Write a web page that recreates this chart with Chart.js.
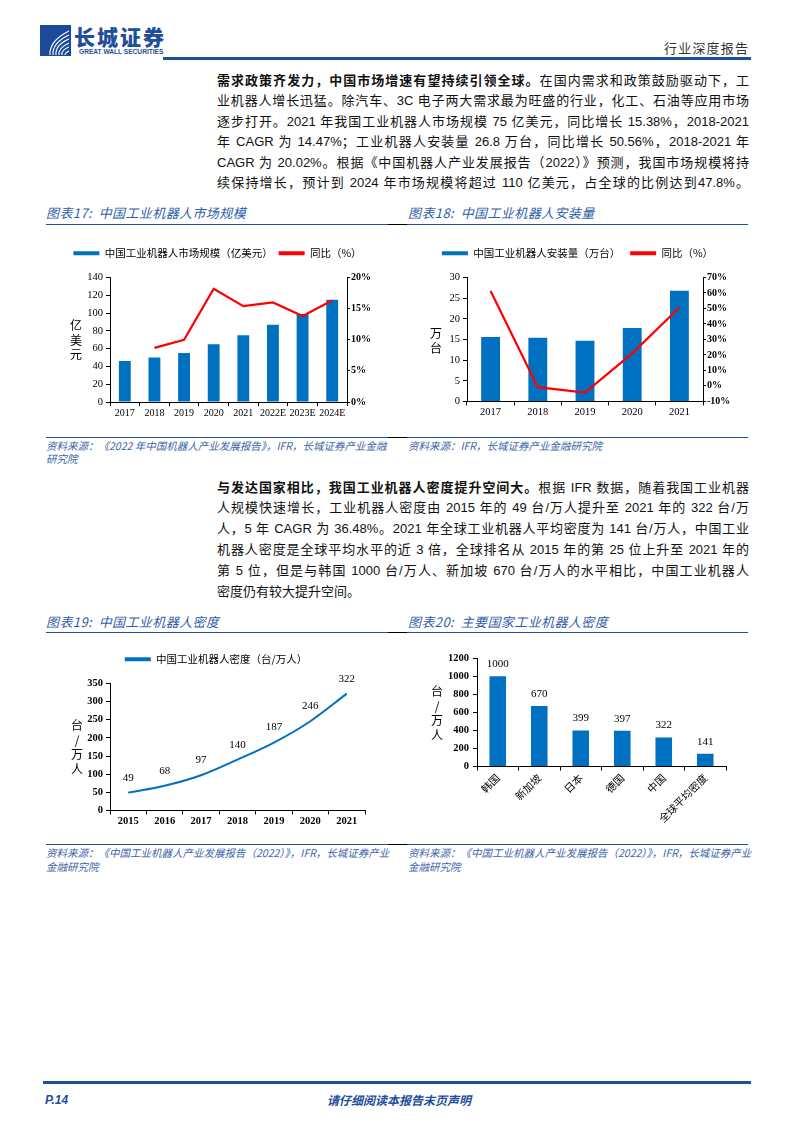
<!DOCTYPE html>
<html>
<head>
<meta charset="utf-8">
<script src="https://cdn.jsdelivr.net/npm/chart.js@4/dist/chart.umd.min.js"></script>
<style>
  html, body { margin:0; padding:0; background:#fff; }
  body { width:794px; height:1123px; position:relative; overflow:hidden;
         font-family:"Liberation Sans","Noto Sans CJK SC",sans-serif; color:#111; }
  .abs { position:absolute; }
  .para { position:absolute; left:217px; width:532px; font-size:13px; }
  .para div { white-space:nowrap; text-align:justify; text-align-last:justify; }
  .para div.last { text-align-last:left; }
  .para b { font-family:"Noto Sans CJK SC",sans-serif; font-weight:700; }
  .ttl { position:absolute; font-size:13px; font-style:italic; color:#2f5da8; line-height:16px; letter-spacing:0.4px;
         font-family:"Noto Sans CJK SC",sans-serif; }
  .src { position:absolute; font-size:10.5px; font-style:italic; color:#3d64a8; line-height:13.5px;
         font-family:"Noto Sans CJK SC",sans-serif; }
  .rule { position:absolute; height:1.5px; background:#1f4e9b; }
  .rule.k { height:1px; background:#000; }
  .ylab { position:absolute; font-size:12px; line-height:14.5px; text-align:center; width:14px;
          font-family:"Noto Sans CJK SC",sans-serif; color:#000; }
  .box { position:absolute; }
</style>
</head>
<body>

<!-- header -->
<svg class="abs" style="left:40px;top:25px" width="31" height="31" viewBox="0 0 31 31">
  <rect width="31" height="31" fill="#1b4a9a"/>
  <path d="M10 30 Q9 16 29 6" stroke="#fff" stroke-width="1.1" fill="none"/>
  <path d="M13 30 Q12 18 29 10" stroke="#fff" stroke-width="1.1" fill="none"/>
  <path d="M16 30 Q15 20 29 14" stroke="#fff" stroke-width="1.1" fill="none"/>
  <path d="M19 30 Q18 23 29 18" stroke="#fff" stroke-width="1.1" fill="none"/>
  <path d="M22 30 Q21 25 29 22" stroke="#fff" stroke-width="1.1" fill="none"/>
  <path d="M25 30 Q25 28 29 26" stroke="#fff" stroke-width="1.1" fill="none"/>
</svg>
<div class="abs" style="left:74px;top:23px;font-size:21px;font-weight:900;color:#1f4e9b;letter-spacing:2px;font-family:'Noto Sans CJK SC';line-height:26px">长城证券</div>
<div class="abs" style="left:79px;top:48px;font-size:6.6px;font-weight:700;color:#1f4e9b;line-height:8px;font-family:'Liberation Sans'">GREAT WALL SECURITIES</div>
<div class="abs" style="left:664px;top:39px;font-size:13px;letter-spacing:1.2px;color:#333;font-family:'Noto Sans CJK SC';line-height:18px">行业深度报告</div>
<div class="abs" style="left:163px;top:57px;width:588px;height:2.5px;background:#1f4e9b"></div>

<!-- paragraph 1 -->
<div class="para" style="top:69.8px;line-height:20.5px">
  <div><b>需求政策齐发力，中国市场增速有望持续引领全球。</b>在国内需求和政策鼓励驱动下，工</div>
  <div>业机器人增长迅猛。除汽车、3C 电子两大需求最为旺盛的行业，化工、石油等应用市场</div>
  <div>逐步打开。2021 年我国工业机器人市场规模 75 亿美元，同比增长 15.38%，2018-2021</div>
  <div>年 CAGR 为 14.47%；工业机器人安装量 26.8 万台，同比增长 50.56%，2018-2021 年</div>
  <div>CAGR 为 20.02%。根据《中国机器人产业发展报告（2022）》预测，我国市场规模将持</div>
  <div>续保持增长，预计到 2024 年市场规模将超过 110 亿美元，占全球的比例达到47.8%。</div>
</div>

<!-- titles row 1 -->
<div class="ttl" style="left:46px;top:205px">图表17:&nbsp; 中国工业机器人市场规模</div>
<div class="ttl" style="left:408px;top:205px">图表18:&nbsp; 中国工业机器人安装量</div>
<div class="rule k" style="left:46px;top:224px;width:702px"></div>
<div class="rule" style="left:46px;top:223.5px;width:342px"></div>
<div class="rule" style="left:407px;top:223.5px;width:341px"></div>

<div class="box" style="left:40px;top:236px;width:355px;height:184px"><canvas id="c17"></canvas></div>
<div class="box" style="left:400px;top:236px;width:350px;height:184px"><canvas id="c18"></canvas></div>
<div class="ylab" style="left:69px;top:318px">亿<br>美<br>元</div>
<div class="ylab" style="left:429px;top:326px">万<br>台</div>

<div class="rule k" style="left:46px;top:437px;width:702px"></div>
<div class="rule" style="left:46px;top:436.5px;width:342px"></div>
<div class="rule" style="left:407px;top:436.5px;width:341px"></div>
<div class="src" style="left:46px;top:438.5px">资料来源：《2022 年中国机器人产业发展报告》，IFR，长城证券产业金融<br>研究院</div>
<div class="src" style="left:408px;top:438.5px">资料来源：IFR，长城证券产业金融研究院</div>

<!-- paragraph 2 -->
<div class="para" style="top:476.6px;line-height:20.8px">
  <div><b>与发达国家相比，我国工业机器人密度提升空间大。</b>根据 IFR 数据，随着我国工业机器</div>
  <div>人规模快速增长，工业机器人密度由 2015 年的 49 台/万人提升至 2021 年的 322 台/万</div>
  <div>人，5 年 CAGR 为 36.48%。2021 年全球工业机器人平均密度为 141 台/万人，中国工业</div>
  <div>机器人密度是全球平均水平的近 3 倍，全球排名从 2015 年的第 25 位上升至 2021 年的</div>
  <div>第 5 位，但是与韩国 1000 台/万人、新加坡 670 台/万人的水平相比，中国工业机器人</div>
  <div class="last">密度仍有较大提升空间。</div>
</div>

<!-- titles row 2 -->
<div class="ttl" style="left:46px;top:614px">图表19:&nbsp; 中国工业机器人密度</div>
<div class="ttl" style="left:408px;top:614px">图表20:&nbsp; 主要国家工业机器人密度</div>
<div class="rule k" style="left:46px;top:632px;width:702px"></div>
<div class="rule" style="left:46px;top:631.5px;width:342px"></div>
<div class="rule" style="left:407px;top:631.5px;width:341px"></div>

<div class="box" style="left:40px;top:643px;width:352px;height:186px"><canvas id="c19"></canvas></div>
<div class="box" style="left:400px;top:648px;width:345px;height:178px"><canvas id="c20"></canvas></div>
<div class="ylab" style="left:70px;top:718px">台<br>/<br>万<br>人</div>
<div class="ylab" style="left:430px;top:684px">台<br>/<br>万<br>人</div>

<div class="rule k" style="left:46px;top:844px;width:702px"></div>
<div class="rule" style="left:46px;top:843.5px;width:342px"></div>
<div class="rule" style="left:407px;top:843.5px;width:341px"></div>
<div class="src" style="left:46px;top:845.5px;line-height:14px">资料来源：《中国工业机器人产业发展报告（2022）》，IFR，长城证券产业<br>金融研究院</div>
<div class="src" style="left:408px;top:845.5px;line-height:14px">资料来源：《中国工业机器人产业发展报告（2022）》，IFR，长城证券产业<br>金融研究院</div>

<!-- footer -->
<div class="abs" style="left:43px;top:1081px;width:708px;height:3px;background:#1f4e9b"></div>
<div class="abs" style="left:45px;top:1092px;font-size:12px;font-weight:700;font-style:italic;color:#1f4e9b;line-height:16px">P.14</div>
<div class="abs" style="left:327px;top:1092px;font-size:12px;font-weight:700;font-style:italic;color:#1f4e9b;line-height:16px;font-family:'Noto Sans CJK SC'">请仔细阅读本报告末页声明</div>

<script>
// ---- data ----
const marketYears = ['2017', '2018', '2019', '2020', '2021', '2022E', '2023E', '2024E'];
const marketSize  = [46, 50, 55, 65, 75, 87, 99, 115];          // 亿美元
const marketYoY   = [null, 8.7, 10.0, 18.2, 15.4, 16.0, 13.8, 16.3]; // %

const installYears = ['2017', '2018', '2019', '2020', '2021'];
const installs     = [15.6, 15.4, 14.7, 17.8, 26.8];            // 万台
const installYoY   = [61.3, -0.8, -4.3, 21.0, 50.6];            // %

const densityYears = ['2015', '2016', '2017', '2018', '2019', '2020', '2021'];
const density      = [49, 68, 97, 140, 187, 246, 322];          // 台/万人

const countries      = ['韩国', '新加坡', '日本', '德国', '中国', '全球平均密度'];
const countryDensity = [1000, 670, 399, 397, 322, 141];

const BLUE = '#0070c0', RED = '#ff0000';
const SERIF = "'Liberation Serif', 'Times New Roman', serif";
const CJK = "'Noto Sans CJK SC', sans-serif";

// numbers above bars / points
const valueLabels = {
  id: 'valueLabels',
  afterDatasetsDraw(chart, args, opts) {
    const { ctx } = chart;
    chart.data.datasets.forEach((ds, i) => {
      chart.getDatasetMeta(i).data.forEach((el, j) => {
        ctx.save();
        ctx.font = `${opts.size}px ${SERIF}`;
        ctx.fillStyle = '#000';
        ctx.textAlign = 'center';
        ctx.textBaseline = 'middle';
        ctx.fillText(String(ds.data[j]), el.x, el.y - opts.offset);
        ctx.restore();
      });
    });
  }
};

// extra empty space under the legend, so the plot starts lower
const legendGap = {
  id: 'legendGap',
  afterInit(chart, args, opts) {
    const lg = chart.legend;
    if (!lg) return;
    const fit = lg.fit;
    lg.fit = function () { fit.call(this); this.height += opts.extra || 0; };
  }
};

// black axis lines with short outward ticks, no grid
function axis(extra) {
  return Object.assign({
    border: { display: true, color: '#000', width: 1 },
    grid: { drawOnChartArea: false, drawTicks: true, tickLength: 4, color: '#000', lineWidth: 1 },
    ticks: { color: '#000', font: { family: SERIF, size: 10.5 }, padding: 2 },
  }, extra);
}

function legendOpts(pad) {
  return {
    display: true,
    labels: {
      boxWidth: 26, boxHeight: 4, padding: pad, color: '#000',
      font: { family: CJK, size: 10.5 },
      sort: (a, b) => a.datasetIndex - b.datasetIndex,
      generateLabels(chart) {
        const items = Chart.defaults.plugins.legend.labels.generateLabels(chart);
        items.forEach(it => { it.lineWidth = 0; it.fillStyle = chart.data.datasets[it.datasetIndex].borderColor || it.fillStyle; });
        return items;
      }
    }
  };
}

Chart.defaults.animation = false;
Chart.defaults.plugins.tooltip.enabled = false;

// 图表17
new Chart(document.getElementById('c17'), {
  data: {
    labels: marketYears,
    datasets: [
      { type: 'bar', label: '中国工业机器人市场规模（亿美元）', data: marketSize, backgroundColor: BLUE, borderColor: BLUE,
        yAxisID: 'y', order: 1, barPercentage: 0.4, categoryPercentage: 1 },
      { type: 'line', label: '同比（%）', data: marketYoY, borderColor: RED, backgroundColor: RED, borderWidth: 2.2,
        pointRadius: 0, yAxisID: 'y1', order: 0, tension: 0 }
    ]
  },
  plugins: [legendGap],
  options: {
    responsive: true, maintainAspectRatio: false,
    layout: { padding: { top: 6, bottom: 0, left: 0, right: 0 } },
    plugins: { legend: legendOpts(6), legendGap: { extra: 9 } },
    scales: {
      x: axis({ ticks: { color: '#000', font: { family: SERIF, size: 10 }, padding: 1, maxRotation: 0, autoSkip: false } }),
      y: axis({ position: 'left', min: 0, max: 140, ticks: { stepSize: 20, color: '#000', font: { family: SERIF, size: 10.5 }, padding: 3 },
                afterFit: s => { s.width = 70; } }),
      y1: axis({ position: 'right', min: 0, max: 20, ticks: { stepSize: 5, callback: v => v + '%', color: '#000', font: { family: SERIF, size: 10, weight: 'bold' }, padding: 1 },
                 grid: { drawOnChartArea: false, tickLength: 3, color: '#000' }, afterFit: s => { s.width = 48; } })
    }
  }
});

// 图表18
new Chart(document.getElementById('c18'), {
  data: {
    labels: installYears,
    datasets: [
      { type: 'bar', label: '中国工业机器人安装量（万台）', data: installs, backgroundColor: BLUE, borderColor: BLUE,
        yAxisID: 'y', order: 1, barPercentage: 0.4, categoryPercentage: 1 },
      { type: 'line', label: '同比（%）', data: installYoY, borderColor: RED, backgroundColor: RED, borderWidth: 2.2,
        pointRadius: 0, yAxisID: 'y1', order: 0, tension: 0 }
    ]
  },
  plugins: [legendGap],
  options: {
    responsive: true, maintainAspectRatio: false,
    layout: { padding: { top: 2, left: 5, right: 0, bottom: 0 } },
    plugins: { legend: legendOpts(10), legendGap: { extra: 9 } },
    scales: {
      x: axis({ ticks: { color: '#000', font: { family: SERIF, size: 10.5 }, padding: 1, maxRotation: 0 } }),
      y: axis({ position: 'left', min: 0, max: 30, ticks: { stepSize: 5, color: '#000', font: { family: SERIF, size: 10.5 }, padding: 3 },
                afterFit: s => { s.width = 62; } }),
      y1: axis({ position: 'right', min: -10, max: 70, ticks: { stepSize: 10, callback: v => v + '%', color: '#000', font: { family: SERIF, size: 10, weight: 'bold' }, padding: 1 },
                 grid: { drawOnChartArea: false, tickLength: 3, color: '#000' }, afterFit: s => { s.width = 47; } })
    }
  }
});

// 图表19
new Chart(document.getElementById('c19'), {
  type: 'line',
  data: {
    labels: densityYears,
    datasets: [
      { label: '中国工业机器人密度（台/万人）', data: density, borderColor: BLUE, backgroundColor: BLUE, borderWidth: 2,
        pointRadius: 0, cubicInterpolationMode: 'monotone' }
    ]
  },
  plugins: [valueLabels, legendGap],
  options: {
    responsive: true, maintainAspectRatio: false,
    layout: { padding: { top: 1, left: 27, right: 27, bottom: 0 } },
    plugins: { legend: legendOpts(10), legendGap: { extra: 9 }, valueLabels: { size: 11, offset: 15 } },
    scales: {
      x: axis({ offset: true, grid: { offset: true, drawOnChartArea: false, tickLength: 4, color: '#000' },
                ticks: { color: '#000', font: { family: SERIF, size: 10.5, weight: 'bold' }, padding: 1, maxRotation: 0 } }),
      y: axis({ min: 0, max: 350, ticks: { stepSize: 50, color: '#000', font: { family: SERIF, size: 10.5, weight: 'bold' }, padding: 3 },
                afterFit: s => { s.width = 43; } })
    }
  }
});

// 图表20
new Chart(document.getElementById('c20'), {
  type: 'bar',
  data: {
    labels: countries,
    datasets: [
      { label: '工业机器人密度', data: countryDensity, backgroundColor: BLUE, barPercentage: 0.4, categoryPercentage: 1 }
    ]
  },
  plugins: [valueLabels],
  options: {
    responsive: true, maintainAspectRatio: false,
    layout: { padding: { right: 19, top: 2 } },
    plugins: { legend: { display: false }, valueLabels: { size: 11, offset: 12 } },
    scales: {
      x: axis({ ticks: { color: '#000', font: { family: CJK, size: 10.5 }, padding: 1, minRotation: 45, maxRotation: 45, autoSkip: false } }),
      y: axis({ min: 0, max: 1200, ticks: { stepSize: 200, callback: v => String(v), color: '#000', font: { family: SERIF, size: 10.5, weight: 'bold' }, padding: 4 },
                afterFit: s => { s.width = 77; } })
    }
  }
});
</script>
</body>
</html>
